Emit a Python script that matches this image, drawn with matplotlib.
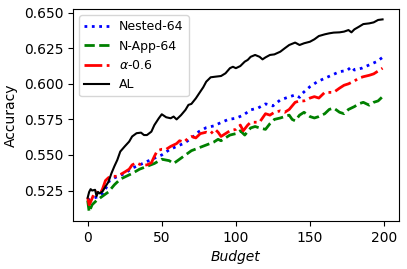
import numpy as np
import matplotlib
matplotlib.use("Agg")
import matplotlib.pyplot as plt

# readings (budget, accuracy)
al_budget = [0, 1, 2, 3, 5, 6, 7, 8, 10, 12, 14, 16, 18, 20, 22, 25, 28, 30, 33, 36, 38, 40,
             43, 45, 48, 50, 53, 56, 58, 60, 63, 66, 68, 70, 73, 76, 78, 80, 83, 86, 90,
             93, 96, 98, 100, 103, 106, 108, 110, 113, 116, 118, 120, 123, 126, 130, 133,
             136, 140, 143, 146, 150, 153, 156, 160, 163, 166, 170, 173, 176, 178, 180,
             183, 186, 190, 193, 196, 199]
al_acc = [0.520, 0.524, 0.526, 0.525, 0.5255, 0.521, 0.524, 0.523, 0.5243, 0.5278, 0.531,
          0.537, 0.542, 0.5465, 0.5524, 0.556, 0.5594, 0.563, 0.5653, 0.5657, 0.564, 0.564,
          0.5664, 0.571, 0.5758, 0.5786, 0.5765, 0.5758, 0.577, 0.575, 0.578, 0.5817, 0.5852,
          0.5859, 0.5898, 0.5945, 0.5976, 0.6015, 0.6046, 0.605, 0.6055, 0.6074, 0.611, 0.612,
          0.611, 0.6125, 0.6156, 0.6168, 0.619, 0.6203, 0.619, 0.6172, 0.6186, 0.6203, 0.6207,
          0.6226, 0.625, 0.6273, 0.629, 0.6273, 0.6285, 0.6296, 0.6313, 0.6336, 0.6348, 0.6355,
          0.636, 0.6362, 0.6367, 0.6378, 0.6362, 0.6383, 0.6401, 0.642, 0.6425, 0.6432,
          0.6449, 0.6453]

nested_budget = [0, 2, 5, 8, 10, 12, 15, 20, 25, 30, 35, 40, 45, 50, 55, 60, 65, 70, 75, 80,
                 85, 90, 95, 100, 105, 110, 115, 120, 125, 130, 135, 140, 143, 145, 150, 155,
                 160, 165, 170, 175, 178, 180, 185, 190, 195, 199]
nested_acc = [0.518, 0.519, 0.520, 0.521, 0.523, 0.526, 0.5325, 0.5348, 0.537, 0.5407, 0.543,
              0.5454, 0.5477, 0.550, 0.5536, 0.556, 0.5582, 0.5617, 0.5664, 0.5692, 0.5704,
              0.5728, 0.575, 0.5758, 0.578, 0.5817, 0.583, 0.5859, 0.5845, 0.5887, 0.5905,
              0.5922, 0.5905, 0.5934, 0.598, 0.6015, 0.6039, 0.6062, 0.6086, 0.6093, 0.612,
              0.6097, 0.611, 0.6133, 0.6156, 0.6186]

napp_budget = [0, 1, 3, 6, 10, 14, 18, 22, 26, 30, 35, 40, 45, 50, 55, 58, 62, 66, 70, 75,
               80, 85, 88, 90, 93, 96, 100, 103, 106, 110, 113, 116, 120, 123, 126, 130, 133,
               136, 138, 140, 143, 146, 150, 153, 156, 160, 163, 166, 170, 173, 176, 180, 183,
               186, 190, 193, 196, 199]
napp_acc = [0.518, 0.510, 0.515, 0.518, 0.521, 0.524, 0.529, 0.533, 0.535, 0.537, 0.540,
            0.542, 0.544, 0.547, 0.546, 0.544, 0.547, 0.550, 0.553, 0.555, 0.557, 0.559,
            0.561, 0.560, 0.562, 0.564, 0.565, 0.567, 0.564, 0.569, 0.570, 0.569, 0.568,
            0.572, 0.575, 0.576, 0.577, 0.578, 0.575, 0.574, 0.578, 0.580, 0.577, 0.576,
            0.577, 0.579, 0.582, 0.583, 0.580, 0.579, 0.582, 0.584, 0.586, 0.587, 0.585,
            0.587, 0.588, 0.591]

alpha_budget = [0, 1, 2, 4, 6, 8, 10, 12, 14, 16, 20, 25, 28, 30, 33, 36, 40, 43, 45, 47, 50,
                53, 56, 60, 62, 65, 68, 70, 73, 76, 80, 83, 86, 88, 90, 93, 96, 100, 103, 105,
                108, 110, 113, 116, 118, 120, 123, 126, 130, 133, 136, 140, 143, 146, 150, 153,
                156, 160, 163, 166, 170, 173, 176, 180, 183, 186, 190, 193, 196, 199]
alpha_acc = [0.520, 0.515, 0.517, 0.522, 0.524, 0.522, 0.526, 0.532, 0.534, 0.535, 0.535,
             0.538, 0.540, 0.543, 0.5445, 0.543, 0.543, 0.5445, 0.549, 0.553, 0.554, 0.554,
             0.556, 0.558, 0.560, 0.559, 0.562, 0.563, 0.562, 0.565, 0.566, 0.565, 0.568,
             0.566, 0.563, 0.565, 0.567, 0.568, 0.571, 0.567, 0.571, 0.573, 0.573, 0.573,
             0.576, 0.579, 0.578, 0.580, 0.581, 0.580, 0.582, 0.587, 0.588, 0.588, 0.590,
             0.591, 0.590, 0.594, 0.594, 0.594, 0.597, 0.599, 0.600, 0.602, 0.604, 0.605,
             0.606, 0.607, 0.609, 0.611]

fig, ax = plt.subplots(figsize=(4.07, 2.69), dpi=100)

ax.plot(nested_budget, nested_acc, ':', color='blue', lw=2, label="Nested-64")
ax.plot(napp_budget, napp_acc, '--', color='green', lw=2, label="N-App-64")
ax.plot(alpha_budget, alpha_acc, '-.', color='red', lw=2, label=r"$\alpha$-0.6")
ax.plot(al_budget, al_acc, '-', color='black', lw=1.5, label="AL")

ax.set_xticks(np.arange(0, 201, 50))
ax.set_yticks([0.525, 0.550, 0.575, 0.600, 0.625, 0.650])
ax.set_yticklabels(["0.525", "0.550", "0.575", "0.600", "0.625", "0.650"])
ax.set_xlim(-10, 210)
ax.set_ylim(0.5035, 0.6525)
ax.tick_params(labelsize=10)
ax.set_xlabel("Budget", fontsize=10, style='italic')
ax.set_ylabel("Accuracy", fontsize=10)
ax.legend(loc='upper left', fontsize=9)

fig.subplots_adjust(left=0.179, right=0.98, top=0.966, bottom=0.178)
fig.savefig("out.png")
